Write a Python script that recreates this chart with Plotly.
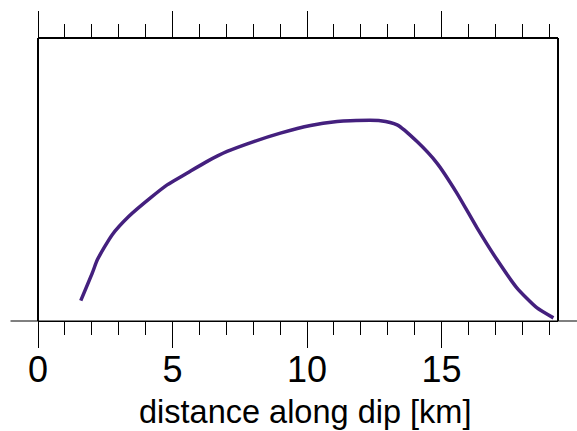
import plotly.graph_objects as go

# distance along dip [km]
x_km = [1.59, 2.02, 2.21, 2.76, 3.38, 4.18, 4.80, 5.55, 6.29, 7.03, 8.02, 9.01,
        10.13, 11.12, 11.61, 12.73, 13.35, 14.09, 14.83, 15.57, 16.32, 17.06,
        17.80, 18.54, 19.16]
# profile value (arbitrary units, axis hidden)
y_val = [0.72, 1.70, 2.17, 3.05, 3.70, 4.35, 4.81, 5.23, 5.64, 5.99, 6.34, 6.64,
         6.91, 7.05, 7.08, 7.08, 6.93, 6.34, 5.58, 4.52, 3.29, 2.17,
         1.17, 0.47, 0.11]

x_range = [0, 19.33]
y_range = [0, 10]
tick_vals = [0, 5, 10, 15]
tick_text = ["0", "5", "10", "15"]
x_title = "distance along dip [km]"

FONT = "Liberation Sans, Arial, Helvetica, sans-serif"

fig = go.Figure()
fig.add_trace(go.Scatter(x=x_km, y=y_val, mode="lines",
                         line=dict(color="#44207e", width=3.5,
                                   shape="spline", smoothing=0.6),
                         showlegend=False, hoverinfo="skip"))

plot_h = 431 - 38 - 110

fig.update_layout(
    width=577, height=431,
    margin=dict(l=37.5, r=19, t=38, b=110, autoexpand=False),
    paper_bgcolor="white", plot_bgcolor="white",
    font=dict(family=FONT, color="black"),
    xaxis=dict(
        range=x_range, showgrid=False, zeroline=False, automargin=False,
        showline=True, linecolor="black", linewidth=1, mirror="ticks",
        ticks="outside", ticklen=26, tickwidth=1, tickcolor="black",
        tickvals=tick_vals, ticktext=tick_text, ticklabelstandoff=-9,
        tickfont=dict(size=36, family=FONT, color="black"),
        minor=dict(dtick=1, tick0=0, ticks="outside", ticklen=13,
                   tickwidth=1, tickcolor="black", showgrid=False),
    ),
    yaxis=dict(range=y_range, visible=False, showgrid=False, zeroline=False),
    annotations=[
        dict(text=x_title, xref="paper", yref="paper",
             x=(305 - 37.5) / 520.5, y=-(412 - 321) / plot_h,
             xanchor="center", yanchor="middle", showarrow=False,
             font=dict(size=32.5, family=FONT, color="black")),
    ],
    shapes=[
        # frame top/left/right (thick)
        dict(type="line", xref="paper", yref="paper", x0=0, x1=1, y0=1, y1=1,
             line=dict(color="black", width=2)),
        dict(type="line", xref="paper", yref="paper", x0=0, x1=0, y0=0, y1=1,
             line=dict(color="black", width=2)),
        dict(type="line", xref="paper", yref="paper", x0=1, x1=1, y0=0, y1=1,
             line=dict(color="black", width=2)),
        # extended baseline
        dict(type="line", xref="paper", yref="paper",
             x0=(10 - 37.5) / 520.5, x1=(577 - 37.5) / 520.5, y0=0, y1=0,
             line=dict(color="black", width=1)),
    ],
)

fig.write_html("out.html")
